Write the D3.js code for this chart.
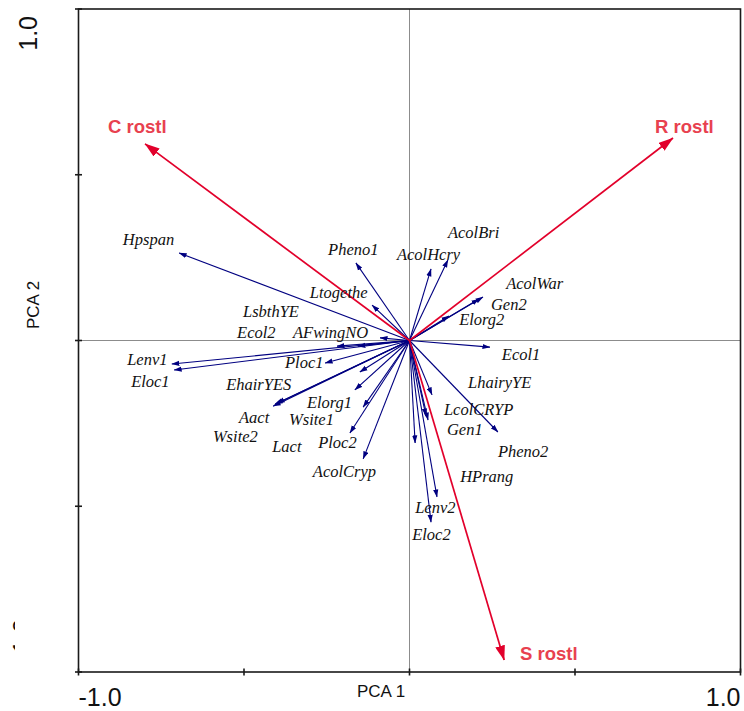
<!DOCTYPE html>
<html>
<head>
<meta charset="utf-8">
<script src="https://cdn.jsdelivr.net/npm/d3@7"></script>
<style>
  html, body { margin: 0; padding: 0; background: #fff; }
  svg { display: block; }
</style>
</head>
<body>
<div id="chart"></div>
<script>
// PCA biplot: CSR strategy vectors (red) and trait variables (blue)

// Strategy vectors (PCA 1, PCA 2 loadings)
const strategyNames = ["C rostl", "R rostl", "S rostl"];
const strategyX = [-0.799, 0.796, 0.286];
const strategyY = [0.593, 0.611, -0.964];
// label anchors for the strategy vectors, in axis units
const strategyLabelX = [-0.911, 0.742, 0.334];
const strategyLabelY = [0.626, 0.626, -0.964];

// Trait variables (PCA 1, PCA 2 loadings)
const traitNames = [
  "Hpspan", "Pheno1", "Ltogethe", "AcolHcry", "AcolBri", "AcolWar", "Gen2",
  "Elorg2", "Ecol1", "AFwingNO", "LsbthYE", "Ecol2", "Lenv1", "Eloc1",
  "Ploc1", "EhairYES", "Aact", "Wsite2", "Wsite1", "Lact", "Elorg1",
  "Ploc2", "AcolCryp", "LhairyYE", "LcolCRYP", "Gen1", "HPrang", "Pheno2",
  "Lenv2", "Eloc2"
];
const traitX = [
  -0.696, -0.162, -0.113, 0.065, 0.116, 0.222, 0.210,
  0.119, 0.243, -0.089, -0.156, -0.219, -0.718, -0.711,
  -0.255, -0.150, -0.406, -0.412, -0.400, -0.165, -0.140,
  -0.180, -0.140, 0.068, 0.050, 0.056, 0.017, 0.267,
  0.083, 0.065
];
const traitY = [
  0.264, 0.234, 0.107, 0.216, 0.243, 0.131, 0.125,
  0.074, -0.020, 0.008, -0.017, -0.017, -0.071, -0.089,
  -0.068, -0.095, -0.192, -0.198, -0.189, -0.149, -0.201,
  -0.279, -0.357, -0.164, -0.228, -0.240, -0.309, -0.276,
  -0.472, -0.548
];
// label anchors (left edge, baseline) for the trait variables, in axis units
const traitLabelX = [
  -0.866, -0.246, -0.301, -0.038, 0.116, 0.292, 0.246,
  0.150, 0.279, -0.352, -0.503, -0.521, -0.853, -0.841,
  -0.376, -0.554, -0.515, -0.594, -0.364, -0.415, -0.310,
  -0.276, -0.292, 0.177, 0.104, 0.113, 0.153, 0.267,
  0.017, 0.008
];
const traitLabelY = [
  0.288, 0.258, 0.128, 0.243, 0.309, 0.155, 0.092,
  0.047, -0.059, 0.008, 0.071, 0.008, -0.074, -0.140,
  -0.083, -0.149, -0.249, -0.305, -0.255, -0.336, -0.204,
  -0.324, -0.412, -0.143, -0.225, -0.285, -0.427, -0.351,
  -0.520, -0.602
];

const tickValues = [-1, -0.5, 0, 0.5, 1];
const axisTitleX = "PCA 1";
const axisTitleY = "PCA 2";

const W = 744, H = 711;
const box = { left: 78.5, right: 740.5, top: 9, bottom: 672 };

const x = d3.scaleLinear().domain([-1, 1]).range([box.left, box.right]);
const y = d3.scaleLinear().domain([-1, 1]).range([box.bottom, box.top]);

// tick numbers with a plain hyphen-minus
const fmt = d3.formatLocale({ decimal: ".", thousands: ",", grouping: [3], currency: ["", ""], minus: "-" }).format(".1f");

const svg = d3.select("#chart").append("svg")
  .attr("width", W).attr("height", H);

const defs = svg.append("defs");
defs.append("marker")
  .attr("id", "headBlue").attr("markerUnits", "userSpaceOnUse")
  .attr("viewBox", "0 -3 8 6").attr("refX", 7.5).attr("refY", 0)
  .attr("markerWidth", 8).attr("markerHeight", 6).attr("orient", "auto")
  .append("path").attr("d", "M0,-2.6L8,0L0,2.6Z").attr("fill", "#000080");
defs.append("marker")
  .attr("id", "headRed").attr("markerUnits", "userSpaceOnUse")
  .attr("viewBox", "0 -5 15 10").attr("refX", 14.5).attr("refY", 0)
  .attr("markerWidth", 15).attr("markerHeight", 10).attr("orient", "auto")
  .append("path").attr("d", "M0,-5L15,0L0,5Z").attr("fill", "#e2002b");
defs.append("clipPath").attr("id", "clipFrag")
  .append("rect").attr("x", 0).attr("y", 620).attr("width", 15).attr("height", 40);

// zero lines
svg.append("line")
  .attr("x1", x(0)).attr("x2", x(0)).attr("y1", y(1)).attr("y2", y(-1))
  .attr("stroke", "#8c8c8c").attr("stroke-width", 1);
svg.append("line")
  .attr("x1", x(-1)).attr("x2", x(1)).attr("y1", y(0)).attr("y2", y(0))
  .attr("stroke", "#8c8c8c").attr("stroke-width", 1);

// frame
const frame = svg.append("g").attr("stroke", "#1a1a1a").attr("stroke-width", 1.6).attr("fill", "none");
frame.append("rect")
  .attr("x", x(-1)).attr("y", y(1))
  .attr("width", x(1) - x(-1)).attr("height", y(-1) - y(1));

// ticks crossing the frame
const tickLen = 3.5;
frame.selectAll(".tx").data(tickValues).enter().append("line")
  .attr("x1", d => x(d)).attr("x2", d => x(d))
  .attr("y1", y(-1) - tickLen).attr("y2", y(-1) + tickLen);
frame.selectAll(".ty").data(tickValues).enter().append("line")
  .attr("y1", d => y(d)).attr("y2", d => y(d))
  .attr("x1", x(-1) - tickLen).attr("x2", x(-1) + tickLen);

// tick labels
const tickFont = "'Liberation Sans', Arial, sans-serif";
svg.append("text")
  .attr("x", x(-1)).attr("y", 706)
  .attr("font-family", tickFont).attr("font-size", 25).attr("fill", "#111")
  .text(fmt(tickValues[0]));
svg.append("text")
  .attr("x", x(1)).attr("y", 706).attr("text-anchor", "end")
  .attr("font-family", tickFont).attr("font-size", 25).attr("fill", "#111")
  .text(fmt(tickValues[4]));
svg.append("text")
  .attr("transform", `translate(37,${y(1) + 7}) rotate(-90)`)
  .attr("text-anchor", "end")
  .attr("font-family", tickFont).attr("font-size", 25).attr("fill", "#111")
  .text(fmt(tickValues[4]));
svg.append("g").attr("clip-path", "url(#clipFrag)")
  .append("text")
  .attr("transform", `translate(31,${y(-1) - 10}) rotate(-90)`)
  .attr("text-anchor", "start")
  .attr("font-family", tickFont).attr("font-size", 25).attr("fill", "#111")
  .text(fmt(tickValues[0]));

// axis titles
svg.append("text")
  .attr("x", 381).attr("y", 697).attr("text-anchor", "middle")
  .attr("font-family", tickFont).attr("font-size", 17).attr("fill", "#111")
  .text(axisTitleX);
svg.append("text")
  .attr("transform", `translate(39,${305}) rotate(-90)`)
  .attr("text-anchor", "middle")
  .attr("font-family", tickFont).attr("font-size", 17).attr("fill", "#111")
  .text(axisTitleY);

// trait arrows
const traits = traitNames.map((n, i) => ({
  name: n, x: traitX[i], y: traitY[i], lx: traitLabelX[i], ly: traitLabelY[i]
}));
svg.append("g").selectAll("line").data(traits).enter().append("line")
  .attr("x1", x(0)).attr("y1", y(0))
  .attr("x2", d => x(d.x)).attr("y2", d => y(d.y))
  .attr("stroke", "#000080").attr("stroke-width", 1.1)
  .attr("marker-end", "url(#headBlue)");

// strategy arrows
const strategies = strategyNames.map((n, i) => ({
  name: n, x: strategyX[i], y: strategyY[i], lx: strategyLabelX[i], ly: strategyLabelY[i]
}));
svg.append("g").selectAll("line").data(strategies).enter().append("line")
  .attr("x1", x(0)).attr("y1", y(0))
  .attr("x2", d => x(d.x)).attr("y2", d => y(d.y))
  .attr("stroke", "#e2002b").attr("stroke-width", 1.7)
  .attr("marker-end", "url(#headRed)");

// labels
svg.append("g").selectAll("text").data(traits).enter().append("text")
  .attr("x", d => x(d.lx)).attr("y", d => y(d.ly))
  .attr("font-family", "'Liberation Serif', 'Times New Roman', serif")
  .attr("font-style", "italic").attr("font-size", 16.5).attr("fill", "#111")
  .text(d => d.name);
svg.append("g").selectAll("text").data(strategies).enter().append("text")
  .attr("x", d => x(d.lx)).attr("y", d => y(d.ly))
  .attr("font-family", tickFont).attr("font-weight", "bold")
  .attr("font-size", 18.5).attr("fill", "#e8414f")
  .text(d => d.name);
</script>
</body>
</html>
